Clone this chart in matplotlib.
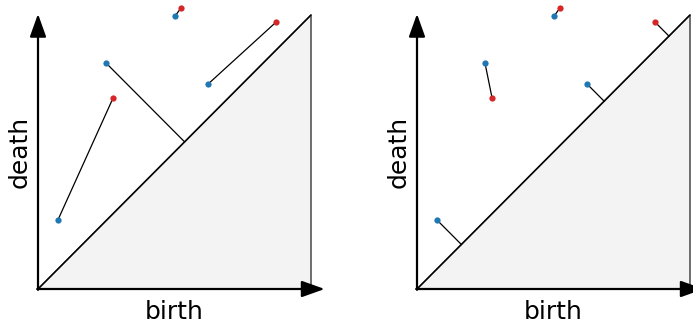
import numpy as np
import matplotlib.pyplot as plt
from matplotlib.patches import Polygon

# persistence diagrams (birth, death)
blue_birth = [0.073, 0.249, 0.623, 0.502]
blue_death = [0.252, 0.825, 0.748, 0.996]
red_birth = [0.275, 0.872, 0.524]
red_death = [0.697, 0.974, 1.026]

# matchings: (blue index, red index); None means matched to the diagonal
left_match = [(0, 0), (1, None), (2, 1), (3, 2)]
right_match = [(0, None), (1, 0), (2, None), (None, 1), (3, 2)]

BLUE = '#1f77b4'
RED = '#d62728'


def diag_proj(b, d):
    m = (b + d) / 2
    return m, m


def draw_panel(ax, matching):
    ax.set_xlim(0, 1)
    ax.set_ylim(0, 1)
    ax.axis('off')

    tri = Polygon([(0, 0), (1, 0), (1, 1)], closed=True, facecolor='#f3f3f3',
                  edgecolor='#555555', lw=1.2, clip_on=False, zorder=1)
    ax.add_patch(tri)
    ax.plot([0, 1], [0, 1], color='k', lw=1.0, zorder=2, clip_on=False)

    # axis arrows
    ax.annotate('', xy=(0, 1.004), xytext=(0, -0.003),
                arrowprops=dict(arrowstyle='-|>,head_length=0.7,head_width=0.25',
                                mutation_scale=20, lw=1.6, color='k',
                                shrinkA=0, shrinkB=0),
                annotation_clip=False, zorder=3)
    ax.annotate('', xy=(1.05, 0), xytext=(-0.003, 0),
                arrowprops=dict(arrowstyle='-|>,head_length=0.7,head_width=0.25',
                                mutation_scale=20, lw=1.6, color='k',
                                shrinkA=0, shrinkB=0),
                annotation_clip=False, zorder=3)

    for bi, ri in matching:
        if bi is not None and ri is not None:
            p = (blue_birth[bi], blue_death[bi])
            q = (red_birth[ri], red_death[ri])
        elif bi is not None:
            p = (blue_birth[bi], blue_death[bi])
            q = diag_proj(*p)
        else:
            p = (red_birth[ri], red_death[ri])
            q = diag_proj(*p)
        ax.plot([p[0], q[0]], [p[1], q[1]], color='k', lw=0.9, zorder=4,
                clip_on=False)

    ax.plot(blue_birth, blue_death, 'o', color=BLUE, ms=4.5, mec='none',
            zorder=5, clip_on=False)
    ax.plot(red_birth, red_death, 'o', color=RED, ms=4.5, mec='none',
            zorder=5, clip_on=False)

    ax.text(0.5, -0.04, 'birth', ha='center', va='top', fontsize=18,
            transform=ax.transAxes)
    ax.text(-0.022, 0.5, 'death', ha='right', va='center', rotation=90,
            fontsize=18, transform=ax.transAxes)


fig = plt.figure(figsize=(6.93, 3.29), dpi=100)
ax1 = fig.add_axes([38 / 693, 40 / 329, 273 / 693, 274 / 329])
ax2 = fig.add_axes([417 / 693, 40 / 329, 273 / 693, 274 / 329])
draw_panel(ax1, left_match)
draw_panel(ax2, right_match)

fig.savefig('out.png', dpi=100)
